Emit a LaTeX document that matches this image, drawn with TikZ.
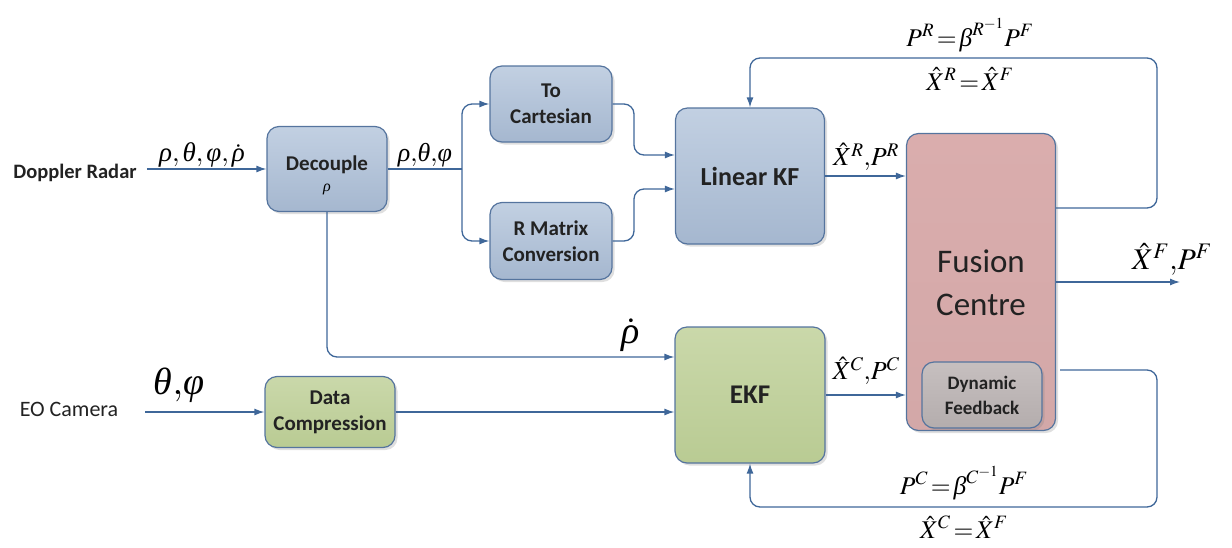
\documentclass[tikz,border=0pt]{standalone}
\usepackage{mathptmx}
\usepackage{fontspec}
\setmainfont{Carlito}
\newfontfamily\grk{Liberation Serif}
\newcommand{\gi}[1]{\mbox{\grk\itshape #1}}
\usetikzlibrary{arrows.meta,shadows,calc}
\definecolor{lineblue}{HTML}{3F6799}
\definecolor{edgeblue}{HTML}{55749E}
\definecolor{blueT}{HTML}{C2D0E2}
\definecolor{blueB}{HTML}{A5B7CF}
\definecolor{greenT}{HTML}{CAD8AA}
\definecolor{greenB}{HTML}{B9CB93}
\definecolor{pinkT}{HTML}{DAADAD}
\definecolor{pinkB}{HTML}{D3A8A8}
\definecolor{grayT}{HTML}{C6BFBF}
\definecolor{grayB}{HTML}{B4ADAD}
\definecolor{txtc}{HTML}{222222}
\tikzset{
  box/.style={draw=edgeblue, line width=1.2pt, rounded corners=12pt,
    drop shadow={shadow xshift=2.5pt, shadow yshift=-2.5pt, opacity=0.25},
    align=center, inner sep=0pt, text=txtc,
    font=\bfseries\fontsize{21}{26}\selectfont},
  bluebox/.style={box, top color=blueT, bottom color=blueB},
  greenbox/.style={box, top color=greenT, bottom color=greenB},
  pinkbox/.style={box, top color=pinkT, bottom color=pinkB},
  graybox/.style={box, top color=grayT, bottom color=grayB},
  conn/.style={draw=lineblue, line width=1.3pt, -{Latex[length=10pt,width=7pt]}},
  plain/.style={draw=lineblue, line width=1.3pt},
  lab/.style={inner sep=0pt, font=\fontsize{26}{30}\selectfont},
  eqlab/.style={inner sep=0pt, font=\fontsize{25.5}{30}\selectfont},
  srctxt/.style={inner sep=0pt, text=txtc},
}
\begin{document}
\begin{tikzpicture}[x=1pt,y=-1pt]
\useasboundingbox (0,0) rectangle (1232,547);

% boxes
\node[bluebox, minimum width=120pt, minimum height=85pt] (dec) at (327,169) {};
\node[srctxt, font=\bfseries\fontsize{21}{26}\selectfont] (dect) at (327,165) {Decouple};
\node[inner sep=0pt, font=\fontsize{16}{18}\selectfont] (decr) at (327,189) {\gi{ρ}};
\node[bluebox, minimum width=122pt, minimum height=76pt] (tc) at (551,104) {To\\Cartesian};
\node[bluebox, minimum width=122pt, minimum height=77pt] (rm) at (551,241) {R Matrix\\Conversion};
\node[bluebox, minimum width=149pt, minimum height=136pt, font=\bfseries\fontsize{26}{30}\selectfont] (lkf) at (750,176) {Linear KF};
\node[greenbox, minimum width=150pt, minimum height=136pt, font=\bfseries\fontsize{27}{30}\selectfont] (ekf) at (750,395) {EKF};
\node[greenbox, minimum width=130pt, minimum height=71pt] (dc) at (330,412) {Data\\Compression};
\node[pinkbox, minimum width=149pt, minimum height=297pt] (fus) at (981,282) {};
\node[srctxt, align=center, font=\fontsize{33}{43}\selectfont] (fust) at (981,283) {Fusion\\Centre};
\node[graybox, minimum width=120pt, minimum height=66pt, font=\bfseries\fontsize{19}{25}\selectfont] (dyn) at (982,395) {Dynamic\\Feedback};

% sources
\node[srctxt, font=\bfseries\fontsize{20.5}{22}\selectfont] (dr) at (75,173) {Doppler Radar};
\node[srctxt, font=\fontsize{22}{24}\selectfont] (eo) at (69,409) {EO Camera};

% connectors
\draw[conn] ($(dec.west -| dr.east)+(10,0)$) -- (dec.west);
\draw[conn] ($(dc.west -| eo.east)+(27,0)$) -- (dc.west);
\coordinate (sp) at (462,169);
\draw[plain] (dec.east) -- (sp);
\draw[conn, rounded corners=10pt] (sp) |- (tc.west);
\draw[conn, rounded corners=10pt] (sp) |- (rm.west);
\coordinate (tcj) at (634,155);
\coordinate (rmj) at (634,189);
\draw[conn, rounded corners=10pt] (tc.east) -| (tcj) -- (tcj -| lkf.west);
\draw[conn, rounded corners=10pt] (rm.east) -| (rmj) -- (rmj -| lkf.west);
\draw[conn] (lkf.east) -- (lkf.east -| fus.west);
\draw[conn] (ekf.east) -- (ekf.east -| fus.west);
\coordinate (rhoin) at (676,357);
\draw[conn, rounded corners=10pt] (dec.south) |- (rhoin -| ekf.west);
\coordinate (dcin) at (676,412);
\draw[conn] (dc.east) -- (dcin -| ekf.west);
\coordinate (out) at (1180,282);
\draw[conn] (fus.east) -- (fus.east -| out);
\coordinate (topst) at (1056,208);
\coordinate (topc) at (1157,58);
\draw[conn, rounded corners=10pt] (topst) -| (topc) -| (lkf.north);
\coordinate (botst) at (1060,370);
\coordinate (botc) at (1157,507);
\draw[conn, rounded corners=10pt] (botst) -| (botc) -| (ekf.south);

% labels
\node[lab, font=\fontsize{27}{30}\selectfont] (l1) at (202,155) {$\gi{ρ},\gi{θ},\gi{φ},\dot{\gi{ρ}}$};
\node[lab] (l2) at (425,155) {$\gi{ρ}{,}\gi{θ}{,}\gi{φ}$};
\node[lab, font=\fontsize{38}{42}\selectfont] (l3) at (179,385) {$\gi{θ}{,}\gi{φ}$};
\node[lab, font=\fontsize{38}{42}\selectfont] (l4) at (631,335) {$\dot{\gi{ρ}}$};
\node[lab] (l5) at (866,157) {$\hat{X}^{R}{,}P^{R}$};
\node[lab] (l6) at (866,371) {$\hat{X}^{C}{,}P^{C}$};
\node[lab, font=\fontsize{30}{34}\selectfont] (l7) at (1172,259) {$\hat{X}^{F}{,}P^{F}$};
\node[eqlab] (l8) at (970,35) {$P^{R}\!=\!\gi{β}^{R^{-1}}P^{F}$};
\node[eqlab] (l9) at (970,79) {$\hat{X}^{R}\!=\!\hat{X}^{F}$};
\node[eqlab] (l10) at (964,483) {$P^{C}\!=\!\gi{β}^{C^{-1}}P^{F}$};
\node[eqlab] (l11) at (964,527) {$\hat{X}^{C}\!=\!\hat{X}^{F}$};
\end{tikzpicture}
\end{document}
